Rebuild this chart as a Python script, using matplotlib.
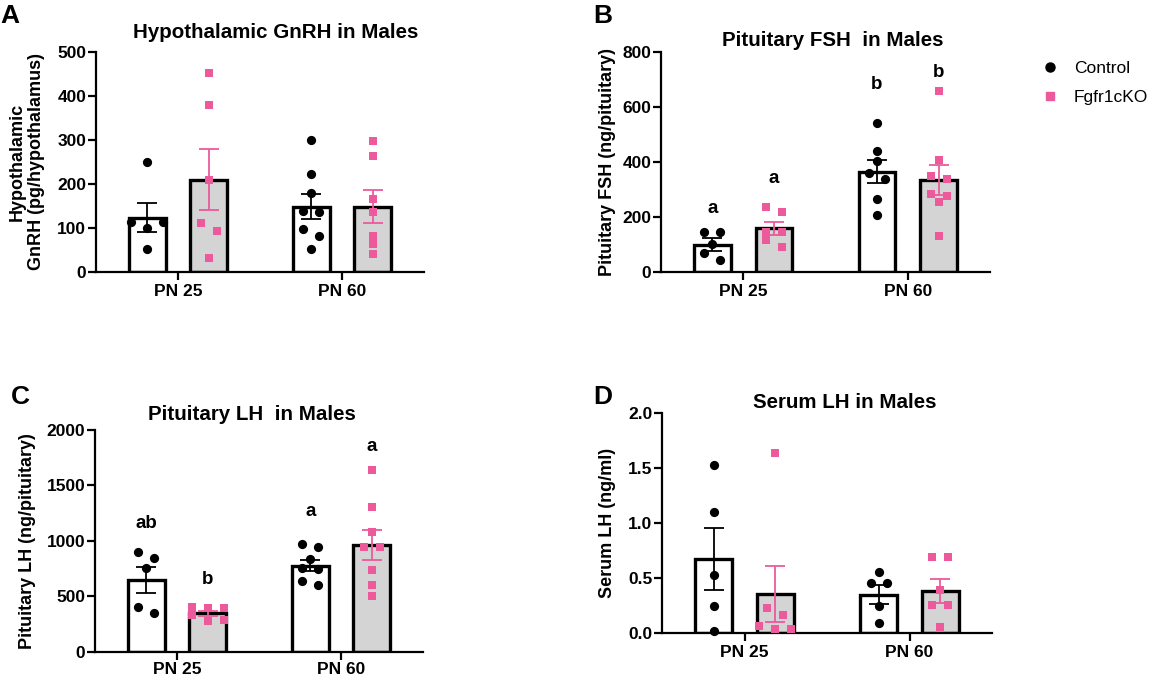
import numpy as np
import matplotlib
matplotlib.use("Agg")
import matplotlib.pyplot as plt
from matplotlib.lines import Line2D

plt.rcParams['font.family'] = ['Liberation Sans', 'DejaVu Sans']
plt.rcParams['font.weight'] = 'bold'

groups = ['PN 25', 'PN 60']

# panel A - hypothalamic GnRH (pg/hypothalamus)
a_ctrl_pts = [[249, 114, 114, 100, 51],
              [299, 222, 180, 139, 135, 97, 81, 51]]
a_ko_pts = [[452, 381, 209, 110, 93, 32],
            [298, 264, 166, 135, 82, 64, 40]]
a_ctrl_mean = [123, 148]
a_ctrl_sem = [32.5, 28.5]
a_ko_mean = [209, 148]
a_ko_sem = [69.5, 38]

# panel B - pituitary FSH (ng/pituitary)
b_ctrl_pts = [[146, 146, 100, 69, 43],
              [541, 441, 404, 361, 337, 265, 207]]
b_ko_pts = [[237, 219, 146, 146, 115, 91],
            [660, 407, 350, 338, 283, 277, 255, 131]]
b_ctrl_mean = [99, 365]
b_ctrl_sem = [22.5, 42.5]
b_ko_mean = [158, 335]
b_ko_sem = [23, 54]
b_letters = [['a', 'a'], ['b', 'b']]
b_letter_y = [[231, 340], [681, 726]]

# panel C - pituitary LH (ng/pituitary)
c_ctrl_pts = [[902, 842, 758, 406, 346],
              [971, 941, 836, 752, 743, 641, 602]]
c_ko_pts = [[405, 395, 395, 335, 285, 275],
            [1639, 1308, 1083, 941, 941, 737, 602, 502]]
c_ctrl_mean = [647, 776]
c_ctrl_sem = [117.5, 49.5]
c_ko_mean = [345, 960]
c_ko_sem = [22, 135]
c_letters = [['ab', 'b'], ['a', 'a']]
c_letter_y = [[1158, 647], [1263, 1850]]

# panel D - serum LH (ng/ml)
d_ctrl_pts = [[1.53, 1.106, 0.53, 0.25, 0.02],
              [0.56, 0.455, 0.455, 0.25, 0.09]]
d_ko_pts = [[1.636, 0.227, 0.167, 0.067, 0.036, 0.036],
            [0.697, 0.697, 0.394, 0.258, 0.258, 0.055]]
d_ctrl_mean = [0.676, 0.352]
d_ctrl_sem = [0.278, 0.084]
d_ko_mean = [0.355, 0.388]
d_ko_sem = [0.255, 0.11]

PINK = '#EC5A9C'
GREY = '#D4D4D4'
W, H = 1156, 677

fig = plt.figure(figsize=(W / 100, H / 100), dpi=100)


def px_axes(left, top, right, bottom):
    return fig.add_axes([left / W, 1 - bottom / H, (right - left) / W, (bottom - top) / H])


def swarm(ax, values, gap_px=16, thresh_px=7.5):
    # GraphPad-like spreading: points close in height share a row
    py = ax.transData.transform(np.column_stack([np.zeros(len(values)), values]))[:, 1]
    order = np.argsort(-np.asarray(values), kind='stable')
    rows = []
    for i in order:
        if rows and py[rows[-1][0]] - py[i] < thresh_px:
            rows[-1].append(i)
        else:
            rows.append([i])
    off = np.zeros(len(values))
    for row in rows:
        n = len(row)
        g = gap_px if n <= 3 else gap_px * 0.7
        slots = (np.arange(n) - (n - 1) / 2) * g
        slot_order = np.argsort(-np.abs(slots), kind='stable')
        for idx, s in zip(row, slot_order):
            off[idx] = slots[s]
    unit = ax.transData.transform((1, 0))[0] - ax.transData.transform((0, 0))[0]
    return off / unit


def panel(ax, ctrl_pts, ko_pts, ctrl_mean, ctrl_sem, ko_mean, ko_sem, ymax, yticks, fmt=None):
    ax.set_xlim(-0.5, 1.5)
    ax.set_ylim(0, ymax)
    x = np.arange(len(groups))
    dx, bw = 0.187, 0.222
    ax.bar(x - dx, ctrl_mean, width=bw, color='white', edgecolor='black', linewidth=2.4, zorder=2)
    ax.bar(x + dx, ko_mean, width=bw, color=GREY, edgecolor='black', linewidth=2.4, zorder=2)
    for i in range(len(groups)):
        xo = swarm(ax, ctrl_pts[i])
        ax.scatter(x[i] - dx + xo, ctrl_pts[i], s=44, marker='o', color='black',
                   linewidths=0, zorder=3, clip_on=False)
        xo = swarm(ax, ko_pts[i])
        ax.scatter(x[i] + dx + xo, ko_pts[i], s=40, marker='s', color=PINK,
                   linewidths=0, zorder=3, clip_on=False)
    ax.errorbar(x - dx, ctrl_mean, yerr=ctrl_sem, fmt='none', ecolor='black',
                elinewidth=1.3, capsize=7.5, capthick=1.3, zorder=4)
    ax.errorbar(x + dx, ko_mean, yerr=ko_sem, fmt='none', ecolor=PINK,
                elinewidth=1.3, capsize=7.5, capthick=1.3, zorder=4)
    for s in ['top', 'right']:
        ax.spines[s].set_visible(False)
    for s in ['left', 'bottom']:
        ax.spines[s].set_linewidth(1.6)
    ax.set_xticks(x)
    ax.set_xticklabels(groups, fontsize=12, fontweight='bold')
    ax.set_yticks(yticks)
    if fmt:
        ax.set_yticklabels([fmt.format(t) for t in yticks])
    ax.tick_params(axis='both', direction='out', length=6, width=1.6, labelsize=12.5)
    ax.tick_params(axis='x', pad=2.5)
    ax.tick_params(axis='y', pad=1)
    ax.patch.set_alpha(0)


def letters(ax, labels, ys):
    dx = 0.187
    for i in range(len(groups)):
        for j, sgn in enumerate([-1, 1]):
            ax.text(i + sgn * dx, ys[i][j], labels[i][j], ha='center', va='center',
                    fontsize=13.5, fontweight='bold')


axA = px_axes(96, 52.3, 424, 271.7)
panel(axA, a_ctrl_pts, a_ko_pts, a_ctrl_mean, a_ctrl_sem, a_ko_mean, a_ko_sem,
      500, [0, 100, 200, 300, 400, 500])

axB = px_axes(661, 52.3, 990, 271.7)
panel(axB, b_ctrl_pts, b_ko_pts, b_ctrl_mean, b_ctrl_sem, b_ko_mean, b_ko_sem,
      800, [0, 200, 400, 600, 800])
letters(axB, b_letters, b_letter_y)

axC = px_axes(95, 430, 423, 651.7)
panel(axC, c_ctrl_pts, c_ko_pts, c_ctrl_mean, c_ctrl_sem, c_ko_mean, c_ko_sem,
      2000, [0, 500, 1000, 1500, 2000])
letters(axC, c_letters, c_letter_y)
axC.tick_params(axis='x', pad=1.5)

axD = px_axes(662, 413.3, 992, 633.3)
panel(axD, d_ctrl_pts, d_ko_pts, d_ctrl_mean, d_ctrl_sem, d_ko_mean, d_ko_sem,
      2.0, [0.0, 0.5, 1.0, 1.5, 2.0], fmt='{:.1f}')


def ftext(x, y, s, **kw):
    fig.text(x / W, 1 - y / H, s, **kw)


# titles
ftext(276, 33, 'Hypothalamic GnRH in Males', ha='center', va='center', fontsize=14.8)
ftext(833, 40, 'Pituitary FSH  in Males', ha='center', va='center', fontsize=14.8)
ftext(252, 414, 'Pituitary LH  in Males', ha='center', va='center', fontsize=14.8)
ftext(845, 403, 'Serum LH in Males', ha='center', va='center', fontsize=14.8)

# y labels
ftext(27, 162, 'Hypothalamic\nGnRH (pg/hypothalamus)', ha='center', va='center',
      rotation=90, fontsize=13, multialignment='center', linespacing=1.2)
ftext(607, 162, 'Pituitary FSH (ng/pituitary)', ha='center', va='center', rotation=90, fontsize=13)
ftext(28, 541, 'Pituitary LH (ng/pituitary)', ha='center', va='center', rotation=90, fontsize=13)
ftext(607, 523, 'Serum LH (ng/ml)', ha='center', va='center', rotation=90, fontsize=13)

# panel letters
ftext(0, 16, 'A', ha='left', va='center', fontsize=19)
ftext(593, 16, 'B', ha='left', va='center', fontsize=19)
ftext(11, 397, 'C', ha='left', va='center', fontsize=19)
ftext(593, 397, 'D', ha='left', va='center', fontsize=19)

# legend
handles = [Line2D([], [], marker='o', color='black', linestyle='none', markersize=6.5),
           Line2D([], [], marker='s', color=PINK, linestyle='none', markersize=6.2)]
fig.legend(handles, ['Control', 'Fgfr1cKO'], loc='center left',
           bbox_to_anchor=(1041 / W, 1 - 83 / H), frameon=False,
           prop={'weight': 'normal', 'size': 12.5}, handlelength=1.0,
           handletextpad=0.9, labelspacing=0.75, borderpad=0, borderaxespad=0)

fig.savefig('out.png', dpi=100)
